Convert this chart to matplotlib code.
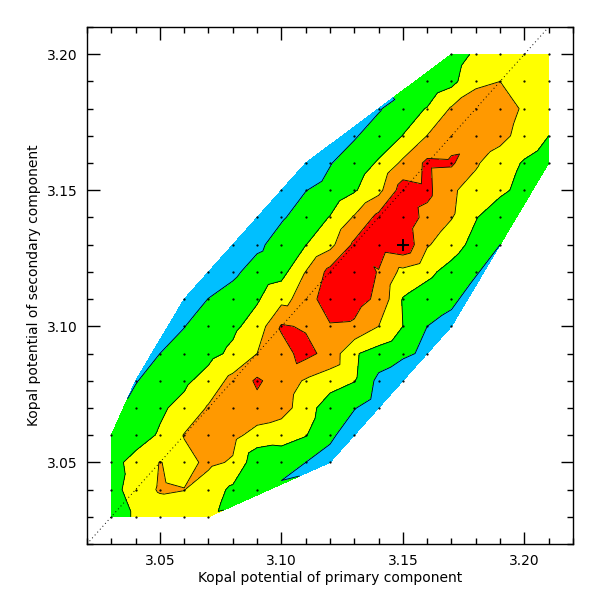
import numpy as np
import matplotlib
matplotlib.use("Agg")
import matplotlib.pyplot as plt
import matplotlib.tri as mtri

# grid rows (secondary potential) and first primary potential sampled in each row
y_rows = [3.03, 3.04, 3.05, 3.06, 3.07, 3.08, 3.09, 3.10, 3.11,
          3.12, 3.13, 3.14, 3.15, 3.16, 3.17, 3.18, 3.19, 3.20]
x_first = [3.03, 3.03, 3.03, 3.03, 3.04, 3.04, 3.05, 3.06, 3.06,
           3.07, 3.08, 3.09, 3.10, 3.11, 3.13, 3.14, 3.16, 3.17]

# contour value (in level units) at each grid point, one list per row
row_303 = [3.4, 2.9, 2.6, 2.5, 2.8]
row_304 = [3.4, 2.5, 1.9, 1.98, 2.5, 3.2, 3.8]
row_305 = [3.3, 2.7, 1.97, 2.3, 1.8, 2.1, 3.7, 3.6, 4.0, 4.4]
row_306 = [3.9, 3.4, 2.9, 1.95, 1.5, 1.7, 2.4, 2.6, 2.95, 3.8, 4.6]
row_307 = [3.7, 3.15, 2.7, 1.9, 1.4, 1.3, 1.6, 2.5, 3.6, 3.95, 4.5]
row_308 = [4.05, 3.6, 3.2, 2.6, 1.7, 0.85, 1.5, 2.1, 2.5, 2.95, 4.25, 4.6]
row_309 = [4.0, 3.7, 3.3, 2.8, 2.0, 1.3, 0.7, 1.35, 2.9, 3.4, 3.85, 4.15]
row_310 = [4.02, 3.6, 3.2, 2.6, 0.9, 1.1, 1.1, 1.15, 2.0, 3.0, 4.0, 4.4]
row_311 = [4.5, 3.98, 3.6, 3.1, 2.3, 1.6, 0.3, 0.6, 1.2, 3.05, 3.4, 3.75]
row_312 = [4.6, 4.2, 3.6, 3.35, 1.98, 0.7, 0.5, 1.05, 2.3, 2.8, 3.3, 3.9]
row_313 = [4.5, 4.2, 3.6, 3.02, 2.3, 0.8, 0.5, 0.2, 1.9, 2.6, 3.3, 4.0]
row_314 = [4.6, 4.1, 3.6, 2.95, 1.9, 0.7, 0.4, 1.3, 1.95, 2.95, 3.6]
row_315 = [4.6, 4.02, 3.7, 3.1, 2.3, 0.5, 0.75, 1.9, 2.3, 2.8, 3.3]
row_316 = [4.6, 4.05, 3.5, 2.9, 1.8, 0.8, 0.85, 1.9, 2.5, 3.1, 3.5]
row_317 = [4.1, 3.5, 2.98, 1.98, 1.4, 1.3, 1.7, 2.4, 3.0]
row_318 = [4.1, 3.4, 2.95, 1.9, 1.6, 1.5, 2.14, 2.4]
row_319 = [3.8, 3.3, 2.15, 2.0, 2.3, 2.6]
row_320 = [3.6, 2.8, 2.4, 2.5, 2.6]

rows = [row_303, row_304, row_305, row_306, row_307, row_308, row_309, row_310, row_311,
        row_312, row_313, row_314, row_315, row_316, row_317, row_318, row_319, row_320]

best_x, best_y = 3.15, 3.13

levels = [0, 1, 2, 3, 4, 5]
fill_colors = ['#ff0000', '#ff9900', '#ffff00', '#00ff00', '#00bfff']

px, py, pz = [], [], []
for y, x0, vals in zip(y_rows, x_first, rows):
    for i, v in enumerate(vals):
        px.append(round(x0 + 0.01 * i, 2))
        py.append(y)
        pz.append(v)
px = np.array(px)
py = np.array(py)
pz = np.array(pz)

fig = plt.figure(figsize=(6, 6), dpi=100)
ax = fig.add_axes([0.145, 0.0933, 0.81, 0.8617])

tri = mtri.Triangulation(px, py)
ax.tricontourf(tri, pz, levels=levels, colors=fill_colors)
ax.tricontour(tri, pz, levels=[1, 2, 3, 4], colors='k', linewidths=0.6)
ax.plot(px, py, 'k.', markersize=1.2)
ax.plot([3.02, 3.21], [3.02, 3.21], color='k', ls=(0, (1, 3)), lw=0.7)
ax.plot(best_x, best_y, 'k+', markersize=8, mew=1.4)

ax.set_xlim(3.02, 3.22)
ax.set_ylim(3.02, 3.21)
ax.set_xticks([3.05, 3.10, 3.15, 3.20])
ax.set_yticks([3.05, 3.10, 3.15, 3.20])
ax.set_xticklabels(['3.05', '3.10', '3.15', '3.20'])
ax.set_yticklabels(['3.05', '3.10', '3.15', '3.20'])
ax.set_xticks(np.arange(3.02, 3.2201, 0.01), minor=True)
ax.set_yticks(np.arange(3.02, 3.2101, 0.01), minor=True)
ax.tick_params(which='both', direction='in', top=True, right=True, labelsize=10, pad=7)
ax.tick_params(which='major', length=9, width=1)
ax.tick_params(which='minor', length=4.5, width=1)
for s in ax.spines.values():
    s.set_linewidth(1)

ax.set_xlabel('Kopal potential of primary component', fontsize=10, labelpad=2)
ax.set_ylabel('Kopal potential of secondary component', fontsize=10, labelpad=4)

fig.savefig('out.png', dpi=100)
